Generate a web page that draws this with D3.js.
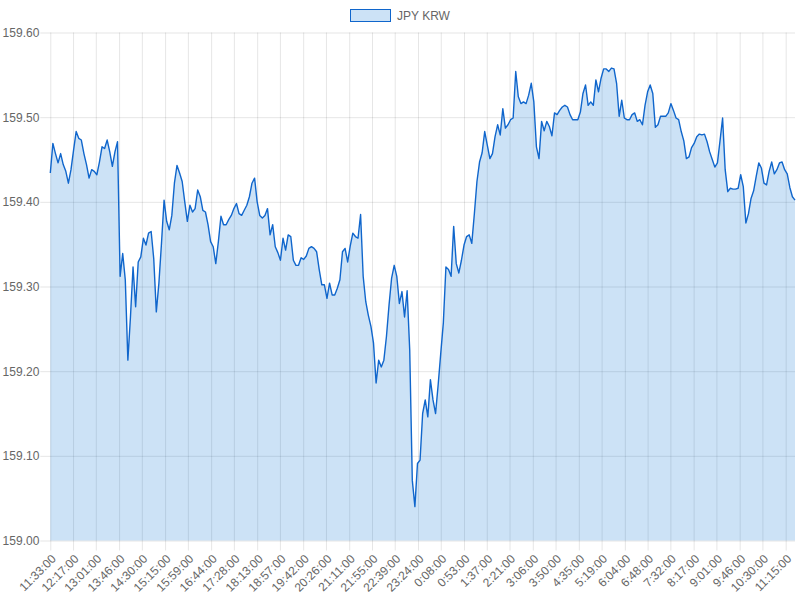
<!DOCTYPE html>
<html>
<head>
<meta charset="utf-8">
<script src="https://cdn.jsdelivr.net/npm/d3@7"></script>
<style>
  body { margin: 0; background: #fff; }
  svg text { font-family: "Liberation Sans", Arial, Helvetica, sans-serif; }
</style>
</head>
<body>
<svg id="chart" width="800" height="600"></svg>
<script>
// ---- data ----
const seriesName = "JPY KRW";
const startTime = "11:33";   // time of the first sample
const stepMinutes = 5;       // spacing of the sampled readings

const values = [
  159.434,159.469,159.457,159.446,159.457,159.444,159.436,159.422,159.438,159.461,
  159.483,159.475,159.473,159.457,159.444,159.428,159.438,159.436,159.432,159.447,
  159.465,159.463,159.473,159.459,159.442,159.459,159.471,159.312,159.339,159.308,
  159.213,159.264,159.323,159.276,159.329,159.335,159.357,
  159.349,159.363,159.365,159.333,159.270,159.304,159.351,159.402,159.377,159.367,
  159.384,159.422,159.443,159.434,159.424,159.400,159.377,159.396,159.388,159.392,
  159.414,159.406,159.390,159.388,159.373,159.353,159.347,159.327,159.353,159.383,
  159.373,159.373,159.379,159.384,159.392,159.398,
  159.386,159.384,159.390,159.396,159.406,159.422,159.428,159.400,159.384,159.381,
  159.384,159.392,159.361,159.373,159.347,159.340,159.331,159.357,159.343,159.361,
  159.359,159.331,159.325,159.325,159.334,159.332,159.336,159.345,159.347,159.345,
  159.341,159.320,159.302,159.302,159.286,
  159.304,159.290,159.290,159.298,159.308,159.341,159.345,159.329,159.348,159.363,
  159.359,159.357,159.385,159.312,159.282,159.266,159.253,159.233,159.186,159.213,
  159.205,159.213,159.241,159.278,159.310,159.325,159.312,159.280,159.294,159.264,
  159.295,159.225,159.071,159.040,159.091,159.095,
  159.150,159.166,159.146,159.190,159.166,159.150,159.184,159.221,159.257,159.323,
  159.320,159.312,159.371,159.327,159.316,159.331,159.349,159.359,159.361,159.351,
  159.386,159.424,159.447,159.458,159.483,159.467,159.451,159.457,159.477,159.491,
  159.479,159.510,159.487,159.491,159.497,
  159.499,159.554,159.524,159.516,159.518,159.516,159.526,159.540,159.518,159.465,
  159.451,159.495,159.484,159.495,159.489,159.478,159.505,159.503,159.508,159.512,
  159.514,159.512,159.503,159.497,159.497,159.497,159.506,159.528,159.538,159.514,
  159.518,159.514,159.544,159.530,159.546,159.557,
  159.557,159.554,159.558,159.557,159.540,159.501,159.520,159.499,159.497,159.497,
  159.503,159.505,159.495,159.497,159.491,159.514,159.530,159.538,159.528,159.488,
  159.491,159.501,159.501,159.501,159.505,159.516,159.508,159.499,159.497,159.483,
  159.472,159.451,159.453,159.464,159.469,159.477,
  159.480,159.479,159.480,159.471,159.459,159.450,159.441,159.446,159.472,159.499,
  159.438,159.412,159.416,159.415,159.415,159.416,159.432,159.418,159.375,159.386,
  159.404,159.413,159.430,159.446,159.440,159.422,159.420,159.436,159.447,159.433,
  159.438,159.446,159.447,159.438,159.433,159.417,159.406,159.402
];

const xTickLabels = [
  "11:33:00","12:17:00","13:01:00","13:46:00","14:30:00","15:15:00","15:59:00",
  "16:44:00","17:28:00","18:13:00","18:57:00","19:42:00","20:26:00","21:11:00",
  "21:55:00","22:39:00","23:24:00","0:08:00","0:53:00","1:37:00","2:21:00",
  "3:06:00","3:50:00","4:35:00","5:19:00","6:04:00","6:48:00","7:32:00",
  "8:17:00","9:01:00","9:46:00","10:30:00","11:15:00"
];

const yTicks = [159.00, 159.10, 159.20, 159.30, 159.40, 159.50, 159.60];

// ---- layout ----
const plot = { left: 50.3, right: 795, top: 32.5, bottom: 540.5 };
const lineColor = "#1066cc";
const fillColor = "rgba(0,108,210,0.2)";
const gridColor = "rgba(0,0,0,0.1)";
const textColor = "#666";

function toMinutes(s) {
  const p = s.split(":").map(Number);
  return p[0] * 60 + p[1];
}
const start = toMinutes(startTime);
const offsetOf = s => (toMinutes(s) - start + 1440) % 1440;

const data = values.map((v, i) => ({ m: i * stepMinutes, v }));

const svg = d3.select("#chart");

const x = d3.scaleLinear()
  .domain([0, (values.length - 1) * stepMinutes])
  .range([plot.left, plot.right]);
const y = d3.scaleLinear()
  .domain([159.0, 159.6])
  .range([plot.bottom, plot.top]);

// horizontal grid + y axis labels
const yAxis = d3.axisLeft(y)
  .tickValues(yTicks)
  .tickSize(plot.right - plot.left + 10)
  .tickFormat(d3.format(".2f"))
  .tickPadding(2);
const yg = svg.append("g")
  .attr("transform", `translate(${plot.right},0)`)
  .call(yAxis);
yg.select(".domain").remove();
yg.selectAll(".tick line").attr("stroke", gridColor).attr("stroke-width", 1);
yg.selectAll(".tick text")
  .attr("fill", textColor).attr("font-size", 12)
  .attr("x", -(plot.right - plot.left) - 11);

// vertical grid + x axis labels
const xTickVals = xTickLabels.map(offsetOf);
const xAxis = d3.axisBottom(x)
  .tickValues(xTickVals)
  .tickSize(-(plot.bottom - plot.top) - 10)
  .tickFormat((d, i) => xTickLabels[i]);
const xg = svg.append("g")
  .attr("transform", `translate(0,${plot.bottom + 10})`)
  .call(xAxis);
xg.select(".domain").remove();
xg.selectAll(".tick line").attr("stroke", gridColor).attr("stroke-width", 1);
xg.selectAll(".tick text")
  .attr("fill", textColor).attr("font-size", 12)
  .attr("text-anchor", "end")
  .attr("y", 0).attr("dy", "0.35em")
  .attr("transform", "translate(3,6) rotate(-45)");

// area + line
const area = d3.area()
  .x(d => x(d.m))
  .y0(y(159.0))
  .y1(d => y(d.v));
const line = d3.line()
  .x(d => x(d.m))
  .y(d => y(d.v));

svg.append("path")
  .datum(data)
  .attr("d", area)
  .attr("fill", fillColor);
svg.append("path")
  .datum(data)
  .attr("d", line)
  .attr("fill", "none")
  .attr("stroke", lineColor)
  .attr("stroke-width", 1.4)
  .attr("stroke-linejoin", "round");

// legend
const legend = svg.append("g").attr("transform", "translate(350,9)");
legend.append("rect")
  .attr("x", 0.5).attr("y", 0.5).attr("width", 40).attr("height", 12)
  .attr("fill", fillColor).attr("stroke", lineColor).attr("stroke-width", 1);
legend.append("text")
  .attr("x", 47).attr("y", 6.5).attr("dy", "0.35em")
  .attr("fill", textColor).attr("font-size", 12)
  .text(seriesName);
</script>
</body>
</html>
